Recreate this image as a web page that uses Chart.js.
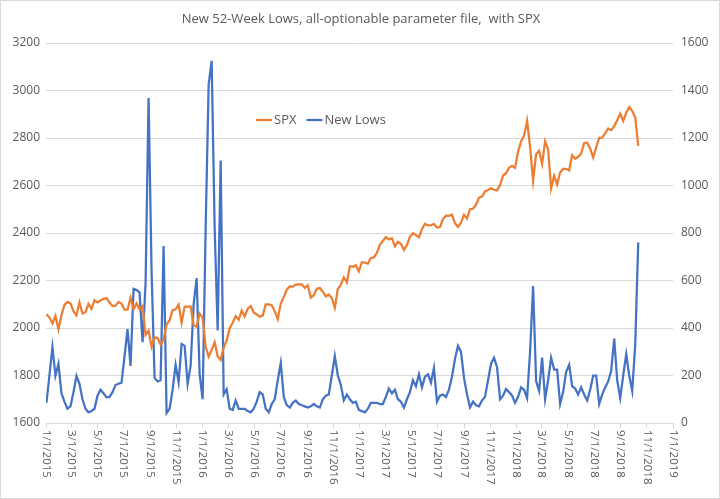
<!DOCTYPE html>
<html><head><meta charset="utf-8">
<script src="https://cdn.jsdelivr.net/npm/chart.js@4/dist/chart.umd.min.js"></script>
<style>
html,body{margin:0;padding:0;background:#fff;}
#wrap{position:relative;width:718px;height:497px;border:1px solid #d9d9d9;}
</style></head><body>
<div id="wrap"><canvas id="c" width="718" height="497"></canvas></div>
<script>
const TITLE = "New 52-Week Lows, all-optionable parameter file,  with SPX";
const startDate = [2015, 0, 2];  // first weekly observation
const spx = [
2058,2044,2019,2051,1995,2055,2097,2110,2104,2071,2053,2108,2061,2067,2102,2081,2117,2108,2116,2123,2126,2107,2092,2094,2110,2102,2077,2077,2127,2079,2104,2078,2092,1971,1989,1921,1961,1958,1931,1951,2015,2033,2075,2079,2099,2023,2089,2090,2091,2012,2006,2061,2044,
1922,1880,1907,1940,1880,1865,1917,1948,1999,2022,2050,2035,2073,2048,2081,2092,2065,2057,2047,2052,2099,2099,2096,2071,2037,2103,2130,2162,2175,2174,2183,2184,2184,2169,2180,2128,2139,2165,2168,2153,2133,2141,2126,2085,2164,2182,2213,2192,2260,2258,2264,2239,
2277,2275,2271,2295,2297,2316,2351,2367,2383,2373,2378,2344,2363,2355,2329,2349,2384,2399,2391,2382,2416,2439,2432,2433,2438,2423,2425,2459,2473,2472,2477,2441,2426,2443,2477,2461,2500,2502,2519,2549,2553,2575,2581,2588,2582,2579,2602,2642,2652,2675,2683,2674,
2743,2786,2810,2873,2762,2620,2732,2747,2691,2786,2752,2588,2641,2604,2656,2670,2670,2663,2728,2713,2721,2735,2779,2780,2755,2718,2760,2801,2802,2819,2840,2833,2850,2875,2902,2872,2905,2930,2914,2886,2767];
const newLows = [
85,200,320,200,250,125,90,60,70,130,198,165,100,60,45,50,60,115,140,125,108,110,130,160,165,170,280,395,240,565,560,550,340,585,1368,640,190,175,180,745,42,60,140,245,172,333,325,165,240,500,610,205,100,
820,1425,1525,820,390,1105,120,142,60,55,95,60,60,60,50,45,60,90,130,120,60,45,80,100,180,253,110,75,65,85,95,80,75,70,65,70,80,70,65,100,115,120,200,282,200,160,95,120,100,85,90,
55,50,45,60,85,85,85,80,80,110,145,125,140,100,90,65,100,130,180,155,205,150,195,205,170,232,90,115,120,110,140,195,270,325,300,190,120,65,90,75,70,95,110,180,250,275,235,100,115,143,130,115,85,
110,150,140,105,300,577,177,135,275,100,180,275,225,225,80,130,215,245,155,145,120,150,120,95,140,200,200,80,120,150,175,220,355,180,105,200,290,200,135,330,760];
const tickMonths = [
"1/1/2015","3/1/2015","5/1/2015","7/1/2015","9/1/2015","11/1/2015",
"1/1/2016","3/1/2016","5/1/2016","7/1/2016","9/1/2016","11/1/2016",
"1/1/2017","3/1/2017","5/1/2017","7/1/2017","9/1/2017","11/1/2017",
"1/1/2018","3/1/2018","5/1/2018","7/1/2018","9/1/2018","11/1/2018","1/1/2019"];
const seriesNames = ["SPX","New Lows"];
const colors = ["#ED7D31","#4472C4"];

const DAY = 86400000;
const base = Date.UTC(2015,0,1);
function dayOf(s){const [m,d,y]=s.split('/').map(Number);return (Date.UTC(y,m-1,d)-base)/DAY;}
const t0 = (Date.UTC(startDate[0],startDate[1],startDate[2])-base)/DAY;
const xs = spx.map((_,i)=>t0+7*i);
const tickDays = tickMonths.map(dayOf);
const FONT = '"Open Sans", "Noto Sans", sans-serif';
const GREY = '#595959';

const deco = {
  id:'deco',
  afterDraw(chart){
    const ctx=chart.ctx, xs_=chart.scales.x, ca=chart.chartArea;
    ctx.save();
    ctx.fillStyle=GREY; ctx.font='13px '+FONT; ctx.textAlign='center'; ctx.textBaseline='middle';
    ctx.fillText(TITLE, 360, 18);
    ctx.font='11.5px '+FONT;
    tickMonths.forEach((lab,i)=>{
      const px=xs_.getPixelForValue(tickDays[i]);
      ctx.save(); ctx.translate(px, ca.bottom+7); ctx.rotate(Math.PI/2);
      ctx.textAlign='left'; ctx.textBaseline='middle'; ctx.fillText(lab,0,0); ctx.restore();
    });
    ctx.font='13px '+FONT; ctx.textAlign='left';
    let lx=255, ly=119;
    seriesNames.forEach((n,i)=>{
      ctx.strokeStyle=colors[i]; ctx.lineWidth=2.25;
      ctx.beginPath(); ctx.moveTo(lx,ly); ctx.lineTo(lx+16,ly); ctx.stroke();
      ctx.fillStyle=GREY; ctx.fillText(n,lx+18,ly);
      lx += 18 + ctx.measureText(n).width + 10;
    });
    ctx.restore();
  }
};

new Chart(document.getElementById('c'),{
  type:'line',
  data:{datasets:[
    {label:seriesNames[0],data:xs.map((x,i)=>({x,y:spx[i]})),borderColor:colors[0],yAxisID:'y',borderWidth:2.25,pointRadius:0,tension:0},
    {label:seriesNames[1],data:xs.map((x,i)=>({x,y:newLows[i]})),borderColor:colors[1],yAxisID:'y1',borderWidth:2.25,pointRadius:0,tension:0}
  ]},
  options:{
    responsive:false,animation:false,
    layout:{padding:{top:42,bottom:70,left:0,right:0}},
    plugins:{legend:{display:false},title:{display:false},tooltip:{enabled:false}},
    scales:{
      x:{type:'linear',min:0,max:dayOf("1/1/2019"),
         afterBuildTicks(s){s.ticks=tickDays.map(v=>({value:v}));},
         ticks:{display:false},
         grid:{drawOnChartArea:false,drawTicks:true,tickLength:5,color:'#d9d9d9'},
         border:{display:true,color:'#d9d9d9'}},
      y:{position:'left',min:1600,max:3200,
         ticks:{stepSize:200,color:GREY,font:{family:FONT,size:12},padding:6,callback:v=>String(v)},
         grid:{color:'#d9d9d9',drawTicks:false},border:{display:false},
         afterFit(s){s.width=45;}},
      y1:{position:'right',min:0,max:1600,
         ticks:{stepSize:200,color:GREY,font:{family:FONT,size:12},padding:8,callback:v=>String(v)},
         grid:{drawOnChartArea:false,drawTicks:false},border:{display:false},
         afterFit(s){s.width=46;}}
    }
  },
  plugins:[deco]
});
</script></body></html>
